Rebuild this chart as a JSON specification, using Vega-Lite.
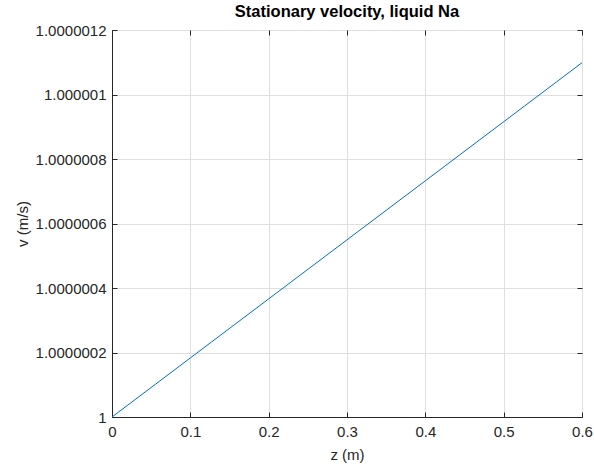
{
  "$schema": "https://vega.github.io/schema/vega-lite/v6.json",
  "width": 470,
  "height": 387,
  "autosize": "none",
  "padding": {"left": 112, "top": 30, "right": 12, "bottom": 54},
  "background": "white",
  "config": {
    "font": "Liberation Sans",
    "view": {"stroke": "#262626", "strokeWidth": 1},
    "axis": {
      "labelFont": "Liberation Sans",
      "titleFont": "Liberation Sans",
      "labelFontSize": 15,
      "titleFontSize": 15,
      "titleFontWeight": "normal",
      "labelColor": "#262626",
      "titleColor": "#262626",
      "domainColor": "#262626",
      "tickColor": "#262626",
      "gridColor": "#dfdfdf",
      "gridOpacity": 1
    }
  },
  "title": {
    "text": "Stationary velocity, liquid Na",
    "font": "Liberation Sans",
    "fontSize": 16.5,
    "fontWeight": "bold",
    "color": "#000000",
    "anchor": "middle",
    "offset": 3
  },
  "data": {
    "values": [
      {"z": 0.0, "v": 1.0},
      {"z": 0.1, "v": 1.0000001831},
      {"z": 0.2, "v": 1.0000003662},
      {"z": 0.3, "v": 1.0000005493},
      {"z": 0.4, "v": 1.0000007324},
      {"z": 0.5, "v": 1.0000009155},
      {"z": 0.6, "v": 1.0000010986}
    ]
  },
  "layer": [
    {
      "mark": {"type": "line", "color": "#0072BD", "strokeWidth": 1},
      "encoding": {
        "x": {
          "field": "z", "type": "quantitative",
          "scale": {"domain": [0, 0.6], "nice": false, "zero": false},
          "axis": {"title": "z (m)", "orient": "bottom", "values": [0, 0.1, 0.2, 0.3, 0.4, 0.5, 0.6], "format": ".1~f", "tickSize": -5, "labelPadding": 12, "titlePadding": 8, "grid": true, "labelFlush": false}
        },
        "y": {
          "field": "v", "type": "quantitative",
          "scale": {"domain": [1, 1.0000012], "nice": false, "zero": false},
          "axis": {"title": "v (m/s)", "orient": "left", "values": [1, 1.0000002, 1.0000004, 1.0000006, 1.0000008, 1.000001, 1.0000012], "format": ".7~f", "tickSize": -5, "labelPadding": 11, "titlePadding": 5, "grid": true, "labelFlush": false}
        }
      }
    },
    {
      "mark": {"type": "line", "opacity": 0},
      "encoding": {
        "x": {
          "field": "z", "type": "quantitative",
          "axis": {"orient": "top", "title": null, "labels": false, "domain": false, "grid": false, "values": [0, 0.1, 0.2, 0.3, 0.4, 0.5, 0.6], "tickSize": -5}
        },
        "y": {
          "field": "v", "type": "quantitative",
          "axis": {"orient": "right", "title": null, "labels": false, "domain": false, "grid": false, "values": [1, 1.0000002, 1.0000004, 1.0000006, 1.0000008, 1.000001, 1.0000012], "tickSize": -5}
        }
      }
    }
  ],
  "resolve": {"axis": {"x": "independent", "y": "independent"}}
}
